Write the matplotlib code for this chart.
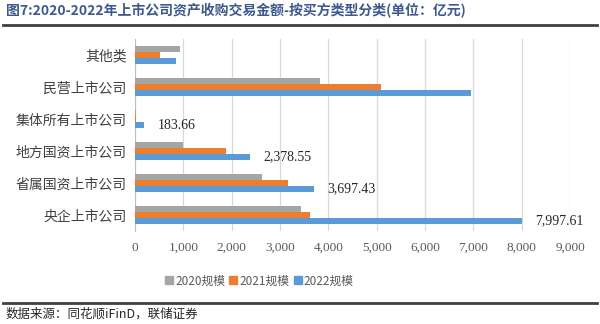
import numpy as np
import matplotlib
matplotlib.use("Agg")
import matplotlib.pyplot as plt
from matplotlib.lines import Line2D

plt.rcParams['font.family'] = ['Noto Sans CJK SC', 'DejaVu Sans']

categories = ['央企上市公司', '省属国资上市公司', '地方国资上市公司',
              '集体所有上市公司', '民营上市公司', '其他类']
v2020 = [3437, 2623, 987, 15, 3830, 932]
v2021 = [3623, 3174, 1884, 30, 5086, 518]
v2022 = [7997.61, 3697.43, 2378.55, 183.66, 6950, 849]
labelled = [True, True, True, True, False, False]
series_names = ['2020规模', '2021规模', '2022规模']
colors = ['#A5A5A5', '#ED7D31', '#5B9BD5']
xticks = np.arange(0, 9001, 1000)

fig = plt.figure(figsize=(6, 3.24), dpi=100)
ax = fig.add_axes([0.225, 0.287, 0.725, 0.593])

y = np.arange(len(categories))
h = 0.19
for vals, off, c, name in zip([v2020, v2021, v2022], [h, 0, -h], colors, series_names):
    ax.barh(y + off, vals, height=h, color=c, label=name, zorder=3)

# value labels only on some 2022 bars
for yi, v, lab in zip(y, v2022, labelled):
    if lab:
        ax.annotate(f'{v:,.2f}', xy=(v, yi - h), xytext=(10, 0), textcoords='offset points',
                    va='center', ha='left', fontsize=10, fontfamily='Liberation Serif',
                    color='#262626')

ax.set_xlim(0, 9000)
ax.set_ylim(-0.5, len(categories) - 0.5)
ax.set_xticks(xticks)
ax.set_xticklabels([f'{t:,}' for t in xticks], fontfamily='Liberation Serif',
                   fontsize=9.5, color='#595959')
ax.set_yticks(y)
ax.set_yticklabels(categories, fontsize=10, color='#404040')
ax.tick_params(axis='both', length=0, pad=8)
ax.tick_params(axis='y', pad=6)
ax.grid(axis='x', color='#D9D9D9', linewidth=0.9, zorder=0)
for s in ['top', 'right', 'bottom']:
    ax.spines[s].set_visible(False)
ax.spines['left'].set_color('#BFBFBF')

handles = [Line2D([], [], marker='s', linestyle='', markersize=6, color=c) for c in colors]
fig.legend(handles, series_names, loc='center', bbox_to_anchor=(259 / 600, 1 - 281 / 324),
           ncol=3, frameon=False, fontsize=8.5, handletextpad=0.1, columnspacing=0.3,
           handlelength=0.8, labelcolor='#595959')

fig.text(0.01, 1 - 11 / 324, '图7:2020-2022年上市公司资产收购交易金额-按买方类型分类(单位：亿元)',
         fontsize=10, fontweight='bold', color='#3E5A8C', va='center', ha='left')
fig.add_artist(Line2D([0.005, 0.995], [1 - 25 / 324] * 2, color='#404040', linewidth=2))
fig.add_artist(Line2D([0.005, 0.995], [1 - 303 / 324] * 2, color='#404040', linewidth=2))
fig.text(0.01, 1 - 314 / 324, '数据来源：同花顺iFinD，联储证券', fontsize=9,
         color='#262626', va='center', ha='left')

fig.savefig('out.png', dpi=100)
